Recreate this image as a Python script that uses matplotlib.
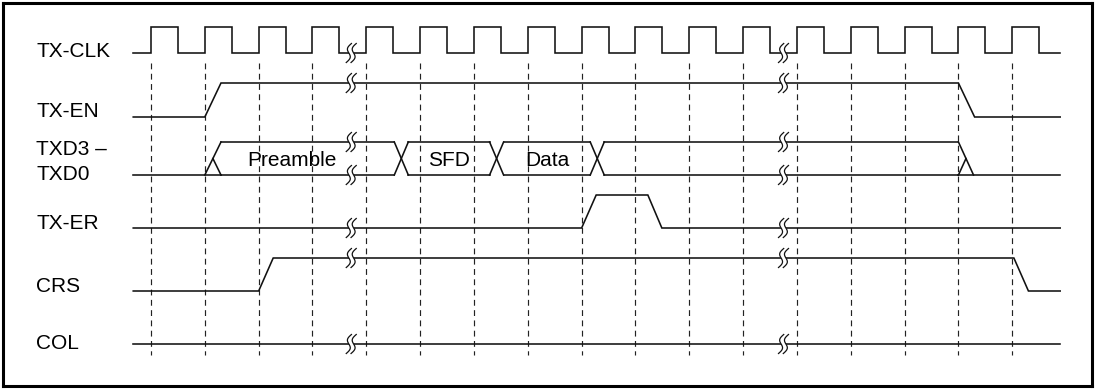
import numpy as np
import matplotlib.pyplot as plt
from matplotlib.patches import Polygon

plt.rcParams['font.family'] = ['Liberation Sans', 'DejaVu Sans']
plt.rcParams['lines.scale_dashes'] = False

# time axis in clock periods, rising edges of TX-CLK at 0..16
t_start, t_end = -0.33, 16.89
clk_rise = np.arange(17)
clk_high = 0.5

# single-bit signals: transition times and logic levels
names = ['TX-CLK', 'TX-EN', 'TXD3 \u2013\nTXD0', 'TX-ER', 'CRS', 'COL']
en_t = [t_start, 1.0, 1.3, 15.0, 15.3, t_end]
en_v = [0, 0, 1, 1, 0, 0]
er_t = [t_start, 8.0, 8.27, 9.23, 9.49, t_end]
er_v = [0, 0, 1, 1, 0, 0]
crs_t = [t_start, 2.0, 2.27, 16.03, 16.3, t_end]
crs_v = [0, 0, 1, 1, 0, 0]
col_t = [t_start, t_end]
col_v = [0, 0]

# TXD bus
bus_open = (1.0, 1.3)
bus_close = (15.0, 15.28)
bus_cross = [(4.52, 4.78), (6.29, 6.55), (8.16, 8.42)]
bus_text = ['Preamble', 'SFD', 'Data']
bus_text_t = [2.62, 5.54, 7.37]

# time breaks
breaks = [3.72, 11.75]

# clock waveform from its edges
clk_t = [t_start]
clk_v = [0]
for r in clk_rise:
    clk_t += [r, r, r + clk_high, r + clk_high]
    clk_v += [0, 1, 1, 0]
clk_t.append(t_end)
clk_v.append(0)

# layout: (low y, high y) of each row, in pixels from top
rows_y = [(53, 27), (117, 83), (175, 142), (228, 195), (291, 258), (344, 311)]
label_base = [57, 117, None, 229, 292, 349]

fig = plt.figure(figsize=(10.99, 3.89), dpi=100)
W, H = 1099, 389
ax = fig.add_axes([3 / W, 3 / H, 1089 / W, 383 / H])
px = 53.83  # pixels per clock period
ax.set_xlim((3 - 151) / px, (1092 - 151) / px)
ax.set_ylim(386, 3)
ax.set_xticks([])
ax.set_yticks([])
for s in ax.spines.values():
    s.set_linewidth(2.2)
    s.set_color('black')

lw = 1.15
col = '#111111'

# dashed clock-edge markers
ax.vlines(clk_rise, 63, 355, colors='#222222', linewidth=0.85,
          linestyles=(0, (4.2, 3.2)), zorder=1)


def lvl(row, v):
    lo, hi = rows_y[row]
    return lo + np.asarray(v) * (hi - lo)


waves = [(clk_t, clk_v), (en_t, en_v), None, (er_t, er_v), (crs_t, crs_v), (col_t, col_v)]
for i, w in enumerate(waves):
    if w is None:
        continue
    ax.plot(w[0], lvl(i, w[1]), color=col, lw=lw, zorder=2, solid_joinstyle='miter')

# bus
lo, hi = rows_y[2]
mid = (lo + hi) / 2
edges = [bus_open[1]] + [c for pair in bus_cross for c in pair] + [bus_close[0]]
for a, b in zip(edges[0::2], edges[1::2]):
    ax.plot([a, b], [hi, hi], color=col, lw=lw, zorder=2)
    ax.plot([a, b], [lo, lo], color=col, lw=lw, zorder=2)
ax.plot([t_start, bus_open[1]], [lo, lo], color=col, lw=lw, zorder=2)
ax.plot([bus_close[0], t_end], [lo, lo], color=col, lw=lw, zorder=2)
# opening and closing
o0, o1 = bus_open
ax.plot([o0, o1], [lo, hi], color=col, lw=lw, zorder=2)
ax.plot([(o0 + o1) / 2, o1], [mid, lo], color=col, lw=lw, zorder=2)
c0, c1 = bus_close
ax.plot([c0, c1], [hi, lo], color=col, lw=lw, zorder=2)
ax.plot([c0, (c0 + c1) / 2], [lo, mid], color=col, lw=lw, zorder=2)
for a, b in bus_cross:
    ax.plot([a, b], [hi, lo], color=col, lw=lw, zorder=2)
    ax.plot([a, b], [lo, hi], color=col, lw=lw, zorder=2)
for txt, tt in zip(bus_text, bus_text_t):
    ax.text(tt, 166, txt, ha='center', va='baseline', fontsize=15, zorder=3)

# break squiggles
s = np.linspace(-1, 1, 40)
dy = 9.5 * s
dx = (-2.6 * s + 2.6 * np.sin(np.pi * s)) / px
gap = 2.4 / px
for tb in breaks:
    ys = []
    for i, w in enumerate(waves):
        if w is None:
            ys += [rows_y[2][0], rows_y[2][1]]
        else:
            ys.append(lvl(i, np.interp(tb, w[0], w[1])))
    for y in ys:
        left = np.column_stack([tb - gap + dx, y + dy])
        right = np.column_stack([tb + gap + dx, y + dy])
        ax.add_patch(Polygon(np.vstack([left, right[::-1]]), closed=True,
                             facecolor='white', edgecolor='none', zorder=3))
        ax.plot(left[:, 0], left[:, 1], color=col, lw=0.9, zorder=4)
        ax.plot(right[:, 0], right[:, 1], color=col, lw=0.9, zorder=4)

# signal names
lx = (36 - 151) / px
for i, name in enumerate(names):
    if label_base[i] is None:
        ax.text(lx, 155, 'TXD3 \u2013', ha='left', va='baseline', fontsize=15)
        ax.text(lx, 180, 'TXD0', ha='left', va='baseline', fontsize=15)
    else:
        ax.text(lx, label_base[i], name, ha='left', va='baseline', fontsize=15)

fig.savefig('out.png', dpi=100)
